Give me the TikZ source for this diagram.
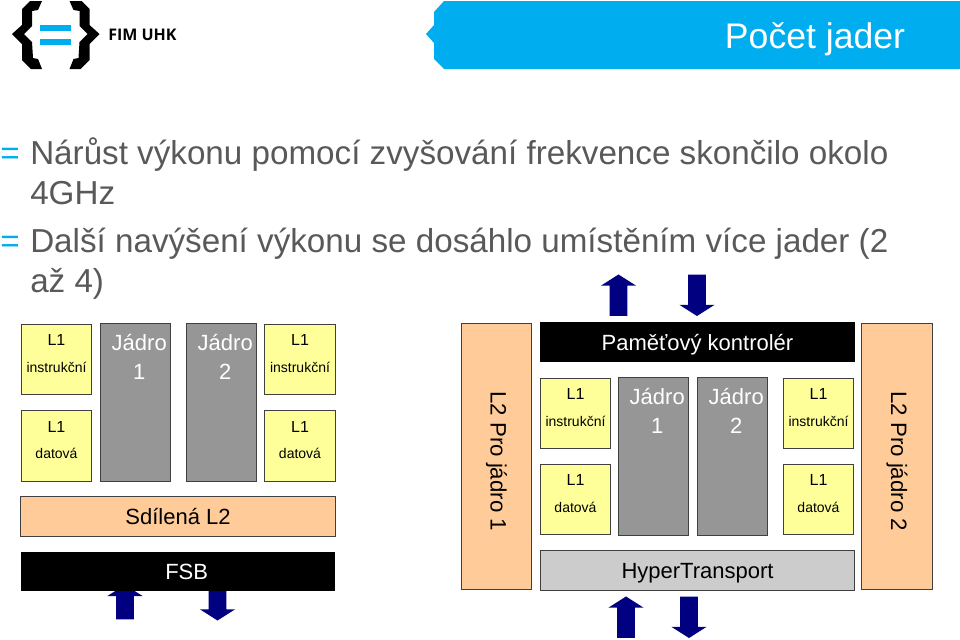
\documentclass[tikz,border=0pt]{standalone}
\usepackage{fontspec}
\setmainfont{Liberation Sans}
\newfontfamily\logofont{Open Sans}
\usetikzlibrary{shapes.arrows}
\definecolor{fimblue}{HTML}{00AEEF}
\definecolor{bodygrey}{HTML}{595959}
\definecolor{cachefill}{HTML}{FFFF99}
\definecolor{corefill}{HTML}{969696}
\definecolor{ltwofill}{HTML}{FFCC99}
\definecolor{htfill}{HTML}{CCCCCC}
\definecolor{edgegrey}{HTML}{404040}
\definecolor{navy}{HTML}{000080}
\tikzset{
  cachebox/.style={draw=edgegrey,fill=cachefill,line width=0.7pt,minimum width=53pt,minimum height=53pt,inner sep=0pt},
  cachetext/.style={anchor=north,align=center,text=black,font=\fontsize{12}{20}\selectfont,inner sep=0pt,yshift=-8pt},
  corebox/.style={draw=edgegrey,fill=corefill,line width=0.7pt,minimum width=53pt,minimum height=118pt,inner sep=0pt},
  coretext/.style={anchor=north,align=center,text=white,font=\fontsize{16.5}{21.5}\selectfont,inner sep=0pt,xshift=2.8pt,yshift=-8pt},
  barbox/.style={line width=0.7pt,minimum width=236pt,minimum height=29.5pt,inner sep=0pt,text height=12pt,text depth=0pt,font=\fontsize{16.5}{20}\selectfont},
  sidebox/.style={draw=edgegrey,fill=ltwofill,line width=0.7pt,rotate=-90,minimum width=200pt,minimum height=53pt,inner sep=0pt,font=\fontsize{16.7}{20}\selectfont},
  busarrow/.style={single arrow,fill=navy,inner sep=0pt,text height=13pt,text depth=0pt,minimum height=31pt,single arrow head extend=6.5pt,single arrow tip angle=115,single arrow head indent=0pt},
  bodytext/.style={anchor=base west,align=left,text=bodygrey,inner sep=0pt,font=\fontsize{24.9}{30}\selectfont},
  bullettext/.style={anchor=base west,text=fimblue,inner sep=0pt,font=\fontsize{24.9}{30}\selectfont}
}
\begin{document}
\begin{tikzpicture}[x=0.75pt,y=-0.75pt]
\useasboundingbox (0,0) rectangle (960,639);
\fill[fimblue] (444,1) -- (434,12) -- (434,25) -- (426,34) -- (434,43) -- (434,59) -- (444,69) -- (960,69) -- (960,1) -- cycle;
\node (title) [text=white,inner sep=0pt,font=\fontsize{26.7}{30}\selectfont] at (815,39) {Počet jader};
\fill[black] (42,1) -- (30,1) -- (22,9) -- (22,25) -- (12,34) -- (22,44) -- (22,60) -- (31,69) -- (42,69) -- (38,59) -- (33,58) -- (32,42) -- (24,34) -- (32,26) -- (32,11) -- (38,10) -- cycle;
\fill[black] (69.5,1) -- (81.5,1) -- (89.5,9) -- (89.5,25) -- (99.5,34) -- (89.5,44) -- (89.5,60) -- (80.5,69) -- (69.5,69) -- (73.5,59) -- (78.5,58) -- (79.5,42) -- (87.5,34) -- (79.5,26) -- (79.5,11) -- (73.5,10) -- cycle;
\fill[fimblue] (40,25) rectangle (71,31);
\fill[fimblue] (40,39) rectangle (71,45);
\node (logo) [anchor=west,inner sep=0pt,font=\logofont\bfseries\fontsize{12}{15}\selectfont] at (108,35) {FIM UHK};

\node (eqa) [bullettext] at (0,164) {=};
\node (linea) [bodytext] at (30,204) {Nárůst výkonu pomocí zvyšování frekvence skončilo okolo\\4GHz};
\node (eqb) [bullettext] at (0,252) {=};
\node (lineb) [bodytext] at (30,292) {Další navýšení výkonu se dosáhlo umístěním více jader (2\\až 4)};

\node (lefti) [cachebox,label={[cachetext]north:L1\\{\fontsize{10.5}{20}\selectfont instrukční}}] at (56.5,359.5) {};
\node (leftd) [cachebox,label={[cachetext]north:L1\\{\fontsize{10.5}{20}\selectfont datová}}] at (56.5,446) {};
\node (leftcorea) [corebox,label={[coretext]north:Jádro\\1}] at (135.5,402.5) {};
\node (leftcoreb) [corebox,label={[coretext]north:Jádro\\2}] at (221.5,402.5) {};
\node (rightloi) [cachebox,label={[cachetext]north:L1\\{\fontsize{10.5}{20}\selectfont instrukční}}] at (300,359.5) {};
\node (rightlod) [cachebox,label={[cachetext]north:L1\\{\fontsize{10.5}{20}\selectfont datová}}] at (300,446) {};
\node (shared) [barbox,draw=edgegrey,fill=ltwofill] at (178,516.5) {Sdílená L2};
\node (fsbup) [busarrow,rotate=90,minimum height=26pt] at (125,605) {};
\node (fsbdown) [busarrow,rotate=-90] at (217.5,597) {};
\node (fsb) [barbox,fill=black,text=white] at (178,571.5) {\hspace*{13pt}FSB};

\node (sidea) [sidebox] at (496.5,456.5) {\hspace*{7pt}\raisebox{2pt}{L2 Pro jádro 1}};
\node (ctrl) [barbox,fill=black,text=white] at (697.5,342) {Paměťový kontrolér};
\node (midi) [cachebox,label={[cachetext]north:L1\\{\fontsize{10.5}{20}\selectfont instrukční}}] at (575.5,413.5) {};
\node (midd) [cachebox,label={[cachetext]north:L1\\{\fontsize{10.5}{20}\selectfont datová}}] at (575.5,499.5) {};
\node (midcorea) [corebox,label={[coretext]north:Jádro\\1}] at (653.5,456.5) {};
\node (midcoreb) [corebox,label={[coretext]north:Jádro\\2}] at (732.5,456.5) {};
\node (endi) [cachebox,label={[cachetext]north:L1\\{\fontsize{10.5}{20}\selectfont instrukční}}] at (818.5,413.5) {};
\node (endd) [cachebox,label={[cachetext]north:L1\\{\fontsize{10.5}{20}\selectfont datová}}] at (818.5,499.5) {};
\node (ht) [barbox,draw=edgegrey,fill=htfill] at (697.5,570.5) {HyperTransport};
\node (sideb) [sidebox] at (897,456.5) {\hspace*{7pt}\raisebox{-3pt}{L2 Pro jádro 2}};
\node (ctrlup) [busarrow,rotate=90] at (618.5,298) {};
\node (ctrldown) [busarrow,rotate=-90] at (697,292.5) {};
\node (htup) [busarrow,rotate=90] at (626,620) {};
\node (htdown) [busarrow,rotate=-90] at (689,614.5) {};
\end{tikzpicture}
\end{document}
